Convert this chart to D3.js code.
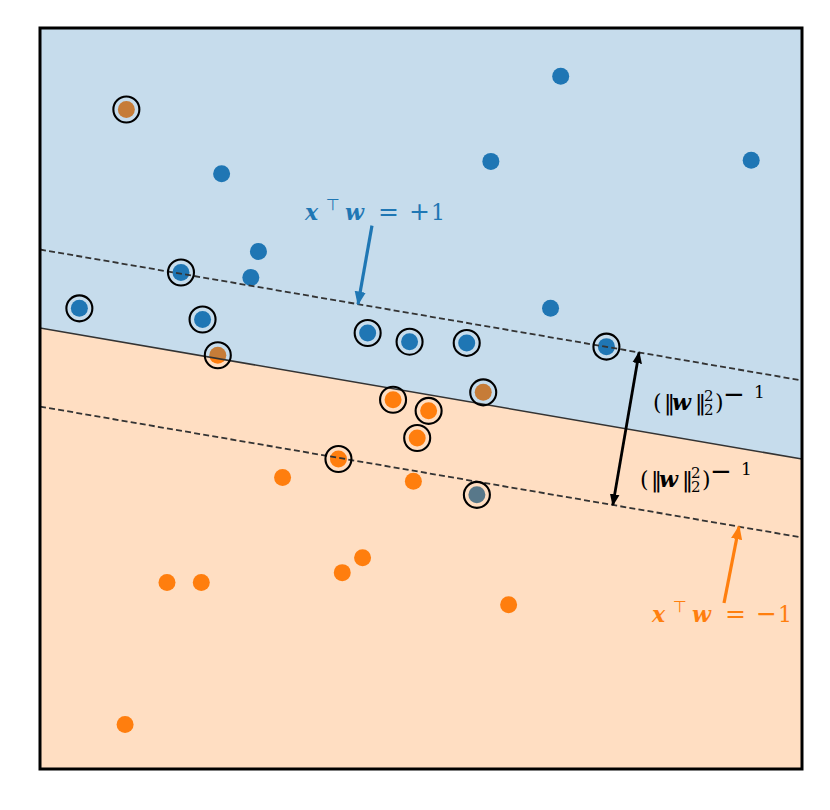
<!DOCTYPE html>
<html><head><meta charset="utf-8">
<script src="https://cdn.jsdelivr.net/npm/d3@7"></script>
<style>body{margin:0;background:#fff}</style>
</head><body>
<svg id="chart" width="830" height="810"></svg>
<script>
// ---- data (data units) ----
const bluePlain = [[1.10,2.61],[0.55,1.92],[2.60,1.93],[-1.57,1.82],[-1.28,1.19],[-1.34,0.98],[1.02,0.73]];
const blueSupport = [[-1.89,1.02],[-2.69,0.73],[-1.72,0.64],[-0.42,0.53],[-0.09,0.46],[0.36,0.45],[1.46,0.42],[0.44,-0.78]];
const orangeSupport = [[-2.32,2.34],[-1.60,0.35],[0.49,0.05],[-0.22,-0.01],[0.06,-0.10],[-0.03,-0.32],[-0.65,-0.49]];
const orangePlain = [[-1.09,-0.64],[-0.06,-0.67],[-0.46,-1.29],[-0.62,-1.41],[-2.00,-1.49],[-1.73,-1.49],[0.69,-1.67],[-2.33,-2.64]];
const weights = [0.278, 1.573];
const bias = -0.0637;
const levels = [-1, 0, 1];
const domainX = [-3, 3];
const domainY = [-3, 3];
const marginArrowX = 1.717;
const labelPlus = {sign:"+", tail:[-0.386,1.40], headX:-0.496, level:1};
const labelMinus = {sign:"\u2212", tail:[2.386,-1.656], headX:2.504, level:-1};

const blue = "#1f77b4", orange = "#ff7f0e";
const svg = d3.select("#chart");
const x = d3.scaleLinear().domain(domainX).range([40, 802]);
const y = d3.scaleLinear().domain(domainY).range([769, 28]);
const lineY = (xv, c) => (c - bias - weights[0]*xv) / weights[1];

const defs = svg.append("defs");
defs.append("clipPath").attr("id","clip").append("rect")
  .attr("x", x(domainX[0])).attr("y", y(domainY[1]))
  .attr("width", x(domainX[1]) - x(domainX[0])).attr("height", y(domainY[0]) - y(domainY[1]));
function marker(id, color, size) {
  defs.append("marker").attr("id", id).attr("viewBox","0 0 10 10")
    .attr("refX", 9).attr("refY", 5).attr("markerWidth", size).attr("markerHeight", size)
    .attr("markerUnits","userSpaceOnUse").attr("orient","auto-start-reverse")
    .append("path").attr("d","M0,1 L10,5 L0,9 z").attr("fill", color);
}
marker("mBlack", "#000", 12);
marker("mBlue", blue, 14);
marker("mOrange", orange, 14);

const g = svg.append("g").attr("clip-path","url(#clip)");

// points (drawn under translucent region fills)
const r = 8.5;
function drawPoints(data, color) {
  g.append("g").selectAll("circle").data(data).join("circle")
    .attr("cx", d => x(d[0])).attr("cy", d => y(d[1])).attr("r", r).attr("fill", color);
}
drawPoints(bluePlain, blue);
drawPoints(blueSupport, blue);
drawPoints(orangeSupport, orange);
drawPoints(orangePlain, orange);

// decision regions
const x0 = domainX[0], x1 = domainX[1];
const line = d3.line().x(d => x(d[0])).y(d => y(d[1]));
g.append("path").attr("d", line([[x0, lineY(x0,0)],[x1, lineY(x1,0)],[x1, domainY[1]],[x0, domainY[1]]]) + "Z")
  .attr("fill", blue).attr("fill-opacity", 0.255);
g.append("path").attr("d", line([[x0, lineY(x0,0)],[x1, lineY(x1,0)],[x1, domainY[0]],[x0, domainY[0]]]) + "Z")
  .attr("fill", orange).attr("fill-opacity", 0.255);

// boundary and margins
g.selectAll("path.lvl").data(levels).join("path").attr("class","lvl")
  .attr("d", c => line([[x0, lineY(x0,c)],[x1, lineY(x1,c)]]))
  .attr("stroke", "#333").attr("stroke-width", c => c === 0 ? 1.6 : 1.8).attr("fill","none")
  .attr("stroke-dasharray", c => c === 0 ? null : "6,3.2");

// support vector rings
g.append("g").selectAll("circle").data(blueSupport.concat(orangeSupport)).join("circle")
  .attr("cx", d => x(d[0])).attr("cy", d => y(d[1])).attr("r", 13)
  .attr("fill","none").attr("stroke","#000").attr("stroke-width", 2.1);

// margin double arrow (perpendicular in pixel space)
const P1 = [x(marginArrowX), y(lineY(marginArrowX, 1))];
const slopePx = (y(lineY(x1,1)) - y(lineY(x0,1))) / (x(x1) - x(x0));
const nx = -slopePx, ny = 1;
const lowLeft = y(lineY(x0,-1));
const lowAt = px => lowLeft + slopePx * (px - x(x0));
const t = (lowAt(P1[0]) - P1[1]) / (ny - slopePx*nx);
const P2 = [P1[0] + t*nx, P1[1] + t*ny];
svg.append("line").attr("x1", P1[0]).attr("y1", P1[1]).attr("x2", P2[0]).attr("y2", P2[1])
  .attr("stroke","#000").attr("stroke-width", 2.8)
  .attr("marker-start","url(#mBlack)").attr("marker-end","url(#mBlack)");

// margin labels
const serif = "'DejaVu Serif',serif";
function makePut(tx, x0p, base) {
  return (txt, dx, dy, opts={}) => {
    const s = tx.append("tspan").attr("x", x0p + dx).attr("y", base + dy).text(txt);
    if (opts.size) s.attr("font-size", opts.size);
    if (opts.bi) s.attr("font-weight","bold").attr("font-style","italic");
    if (opts.sans) s.attr("font-family","'DejaVu Sans',sans-serif");
    return s;
  };
}
function normLabel(x0p, base) {
  const tx = svg.append("text").attr("font-family", serif).attr("font-size", 22).attr("fill","#000");
  const put = makePut(tx, x0p, base);
  put("(", 1, 0);
  put("\u2016", 12, 0, {sans:true});
  put("w", 20, 0, {bi:true});
  put("\u2016", 43, 0, {sans:true});
  put("2", 52, -9, {size:15});
  put("2", 52, 5, {size:15});
  put(")", 63, 0);
  put("\u2212", 71, -7, {size:26, sans:true});
  put("1", 102, -12, {size:17});
}
normLabel(652, 410);
normLabel(639, 487);

// annotation labels with arrows
function annot(lab, color, mk, x0p, base) {
  const head = [x(lab.headX), y(lineY(lab.headX, lab.level))];
  svg.append("line").attr("x1", x(lab.tail[0])).attr("y1", y(lab.tail[1]))
    .attr("x2", head[0]).attr("y2", head[1])
    .attr("stroke", color).attr("stroke-width", 3.2).attr("marker-end", `url(#${mk})`);
  const tx = svg.append("text").attr("font-family", serif).attr("font-size", 22).attr("fill", color);
  const put = makePut(tx, x0p, base);
  put("x", 0, 0, {bi:true});
  put("\u22a4", 21, -10, {size:16, sans:true});
  put("w", 40, 0, {bi:true});
  put("=", 73, 0, {size:25, sans:true});
  put(lab.sign, 104, 0, {size:25, sans:true});
  put("1", 126, 0);
}
annot(labelPlus, blue, "mBlue", 305, 220);
annot(labelMinus, orange, "mOrange", 652, 622);

// frame
svg.append("rect").attr("x", x(domainX[0])).attr("y", y(domainY[1]))
  .attr("width", x(domainX[1]) - x(domainX[0])).attr("height", y(domainY[0]) - y(domainY[1]))
  .attr("fill","none").attr("stroke","#000").attr("stroke-width", 3);
</script>
</body></html>
